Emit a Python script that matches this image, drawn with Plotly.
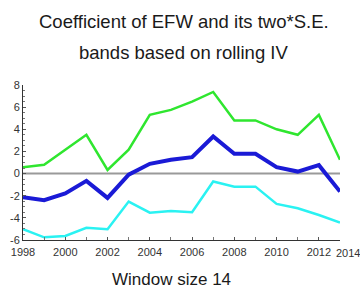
import plotly.graph_objects as go

years = list(range(1998, 2014))
upper = [0.58, 0.8, 2.15, 3.5, 0.33, 2.15, 5.3, 5.75, 6.5, 7.37, 4.8, 4.8, 4.0, 3.5, 5.3, 1.24]
coef = [-2.14, -2.4, -1.8, -0.66, -2.2, -0.1, 0.88, 1.24, 1.48, 3.35, 1.78, 1.78, 0.58, 0.18, 0.76, -1.63]
lower = [-5.03, -5.76, -5.64, -4.9, -5.03, -2.53, -3.53, -3.38, -3.5, -0.72, -1.18, -1.18, -2.74, -3.13, -3.74, -4.43]
xtick_vals = [1998, 2000, 2002, 2004, 2006, 2008, 2010, 2012]
ytick_vals = [-6, -4, -2, 0, 2, 4, 6, 8]

W, H = 360, 295
ml, mr, mt, mb = 23, 20, 85, 55
pw = W - ml - mr
ph = H - mt - mb

font_fam = "Liberation Sans, Arial, sans-serif"

fig = go.Figure()
fig.add_trace(go.Scatter(x=[years[0], years[-1]], y=[0, 0], mode="lines",
                         line=dict(color="#9a9a9a", width=2), hoverinfo="skip"))
fig.add_trace(go.Scatter(x=years, y=upper, mode="lines", line=dict(color="#2fe62f", width=2.5)))
fig.add_trace(go.Scatter(x=years, y=lower, mode="lines", line=dict(color="#2af2f2", width=2.5)))
fig.add_trace(go.Scatter(x=years, y=coef, mode="lines", line=dict(color="#1a1ad6", width=4)))

fig.update_layout(
    width=W, height=H,
    margin=dict(l=ml, r=mr, t=mt, b=mb),
    paper_bgcolor="white", plot_bgcolor="white",
    showlegend=False,
    font=dict(family=font_fam, color="#222222"),
    xaxis=dict(range=[1998, 2013], tickvals=xtick_vals, ticktext=[str(v) for v in xtick_vals],
               showgrid=False, zeroline=False, showline=True, linecolor="#333333", linewidth=1,
               ticks="inside", ticklen=3, tickcolor="#555555", automargin=False,
               ticklabelstandoff=2,
               minor=dict(dtick=1, ticks="inside", ticklen=3, tickcolor="#777777"),
               tickfont=dict(size=11, family=font_fam, color="#333333")),
    yaxis=dict(range=[-6, 8], tickvals=ytick_vals, ticktext=[str(v) for v in ytick_vals],
               showgrid=False, zeroline=False, showline=True, linecolor="#333333", linewidth=1,
               ticks="inside", ticklen=3, tickcolor="#555555", automargin=False,
               minor=dict(dtick=0.5, ticks="inside", ticklen=2, tickcolor="#777777"),
               tickfont=dict(size=11, family=font_fam, color="#333333")),
    annotations=[
        dict(text="Coefficient of EFW and its two*S.E.", xref="paper", yref="paper",
             x=(184 - ml) / pw, y=1 + (mt - 21) / ph, showarrow=False,
             xanchor="center", yanchor="middle", font=dict(size=18.5, family=font_fam, color="#1a1a1a")),
        dict(text="bands based on rolling IV", xref="paper", yref="paper",
             x=(184 - ml) / pw, y=1 + (mt - 52) / ph, showarrow=False,
             xanchor="center", yanchor="middle", font=dict(size=18.5, family=font_fam, color="#1a1a1a")),
        dict(text="Window size 14", xref="paper", yref="paper",
             x=(171 - ml) / pw, y=-(279 - (H - mb)) / ph, showarrow=False,
             xanchor="center", yanchor="middle", font=dict(size=17, family=font_fam, color="#1a1a1a")),
        dict(text="2014", xref="paper", yref="paper", x=(334 - ml) / pw, y=-(253 - (H - mb)) / ph,
             showarrow=False, xanchor="left", yanchor="middle",
             font=dict(size=11, family=font_fam, color="#333333")),
    ],
)

fig.write_html("out.html", config={"displayModeBar": False},
               post_script="document.body.style.margin='0';document.body.style.padding='0';")
